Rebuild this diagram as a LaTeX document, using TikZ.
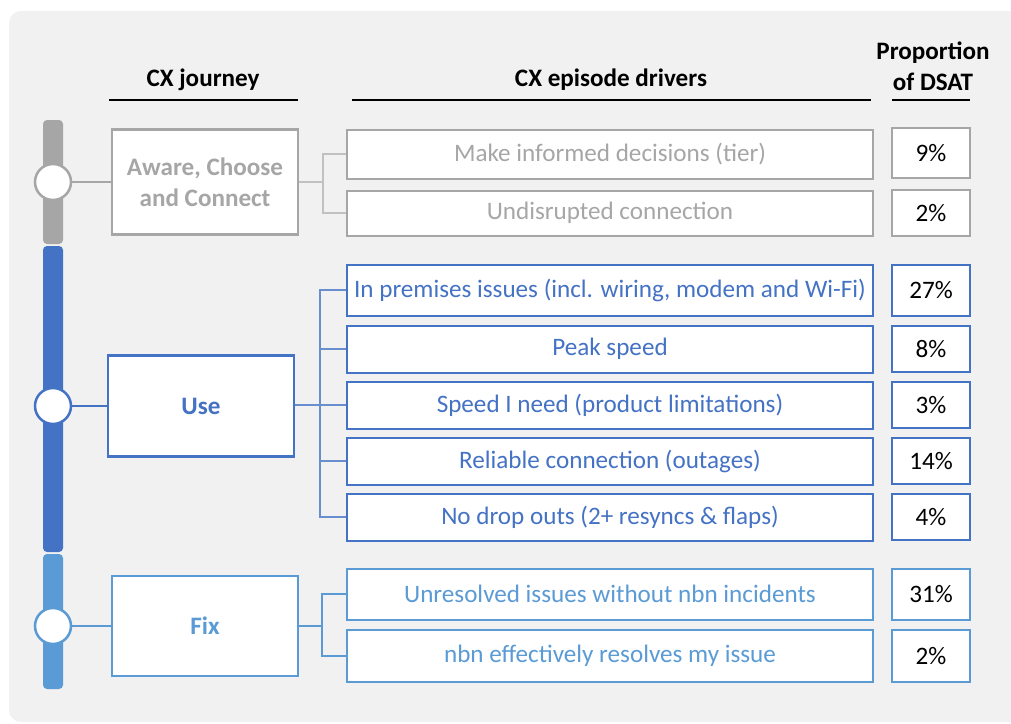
\documentclass[tikz,border=0pt]{standalone}
\usepackage{fontspec}
\setmainfont{Carlito}
\definecolor{bggray}{HTML}{F1F1F1}
\definecolor{awgray}{HTML}{A6A6A6}
\definecolor{useblue}{HTML}{4472C4}
\definecolor{fixblue}{HTML}{5B9BD5}
\newcommand{\diagfont}{\fontsize{14.3}{17.6}\selectfont}
\tikzset{
	stagebox/.style={draw=#1, line width=0.5mm, fill=white, minimum width=37.2mm, minimum height=20.4mm, text=#1, font=\diagfont\bfseries, align=center},
	driverbox/.style={draw=#1, line width=0.4mm, fill=white, minimum width=105.2mm, minimum height=9.4mm, text=#1},
	pctbox/.style={draw=#1, line width=0.4mm, fill=white, minimum width=15.6mm, minimum height=9.6mm, text=black},
	stagedot/.style={circle, draw=#1, line width=0.5mm, fill=white, minimum size=7.2mm, inner sep=0pt},
	stagebar/.style={fill=#1, rounded corners=0.8mm},
	branch/.style={draw=#1, line width=0.25mm},
	header/.style={font=\diagfont\bfseries, align=center, text=black}
}
\begin{document}
\begin{tikzpicture}[x=0.2mm, y=-0.2mm, font=\diagfont]
	\useasboundingbox (0,0) rectangle (1011,724);
	\fill[bggray, rounded corners=2.4mm] (9,11) rectangle (1030,722);
	
	% column headers
	\node[header] (hjourney) at (203,80) {CX journey};
	\node[header] (hdrivers) at (611,80) {CX episode drivers};
	\node[header] (hdsat) at (933,66) {Proportion\\of DSAT};
	\draw[line width=0.4mm] (109,100) -- (298,100);
	\draw[line width=0.4mm] (352,100) -- (871,100);
	\draw[line width=0.4mm] (892,100) -- (970,100);
	
	% journey bar
	\fill[stagebar=awgray] (43,120) rectangle (63,244);
	\fill[stagebar=useblue] (43,246) rectangle (63,552);
	\fill[stagebar=fixblue] (43,554) rectangle (63,689);
	\node[stagedot=awgray] (dotaw) at (53,182) {};
	\node[stagedot=useblue] (dotuse) at (53,406) {};
	\node[stagedot=fixblue] (dotfix) at (53,626) {};
	
	% stages
	\node[stagebox=awgray, minimum height=21mm] (aware) at (205,182) {Aware, Choose\\and Connect};
	\node[stagebox=useblue, minimum height=20.2mm] (use) at (201,406) {Use};
	\node[stagebox=fixblue, minimum height=20mm] (fix) at (205,626) {Fix};
	
	% drivers
	\node[driverbox=awgray, minimum height=9.8mm] (aw1) at (610,154) {Make informed decisions (tier)};
	\node[driverbox=awgray, minimum height=9.0mm] (aw2) at (610,213) {Undisrupted connection};
	\node[driverbox=useblue, minimum height=10.2mm] (use1) at (610,290) {In premises issues (incl. wiring, modem and Wi-Fi)};
	\node[driverbox=useblue] (use2) at (610,349) {Peak speed};
	\node[driverbox=useblue] (use3) at (610,405) {Speed I need (product limitations)};
	\node[driverbox=useblue] (use4) at (610,461) {Reliable connection (outages)};
	\node[driverbox=useblue] (use5) at (610,517) {No drop outs (2+ resyncs \& flaps)};
	\node[driverbox=fixblue, minimum height=10.2mm] (fix1) at (610,594) {Unresolved issues without nbn incidents};
	\node[driverbox=fixblue, minimum height=10.4mm] (fix2) at (610,656) {nbn effectively resolves my issue};
	
	% proportion of DSAT
	\node[pctbox=awgray, minimum height=10mm] (paw1) at (931,153) {9\%};
	\node[pctbox=awgray, minimum height=9.2mm] (paw2) at (931,213) {2\%};
	\node[pctbox=useblue, minimum height=10.2mm] (puse1) at (931,290) {27\%};
	\node[pctbox=useblue, minimum height=9.2mm] (puse2) at (931,349) {8\%};
	\node[pctbox=useblue, minimum height=9.2mm] (puse3) at (931,405) {3\%};
	\node[pctbox=useblue, minimum height=9.2mm] (puse4) at (931,461) {14\%};
	\node[pctbox=useblue, minimum height=9.2mm] (puse5) at (931,517) {4\%};
	\node[pctbox=fixblue, minimum height=10.2mm] (pfix1) at (931,594) {31\%};
	\node[pctbox=fixblue, minimum height=10.4mm] (pfix2) at (931,656) {2\%};
	
	% branches
	\coordinate (jaw) at (323,182);
	\coordinate (juse) at (320,405);
	\coordinate (jfix) at (322,626);
	\draw[branch=awgray, line width=0.5mm] (dotaw) -- (aware);
	\draw[branch=useblue, line width=0.5mm] (dotuse) -- (use);
	\draw[branch=fixblue, line width=0.5mm] (dotfix) -- (fix);
	\draw[branch=awgray!70] (aware.east |- jaw) -- (jaw);
	\foreach \d in {aw1,aw2} \draw[branch=awgray!70] (jaw) |- (\d);
	\draw[branch=useblue!80] (use.east |- juse) -- (juse);
	\foreach \d in {use1,use2,use3,use4,use5} \draw[branch=useblue!80] (juse) |- (\d);
	\draw[branch=fixblue, line width=0.4mm] (fix) -- (jfix);
	\foreach \d in {fix1,fix2} \draw[branch=fixblue, line width=0.4mm] (jfix) |- (\d);
	\end{tikzpicture}
\end{document}
